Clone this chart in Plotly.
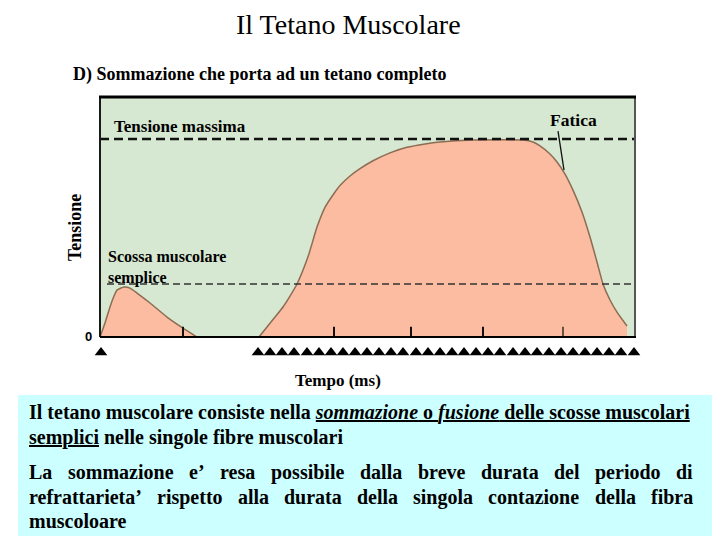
import plotly.graph_objects as go

# ---------------- data ----------------
# time in ms (arbitrary scale), tension in % of maximal tension
twitch_t = [0, 2.5, 5, 7, 8.5, 12, 15, 18.5, 25, 33.5, 41.5, 48.5]
twitch_T = [0, 7.1, 15.2, 20.7, 23.7, 25.3, 24.7, 22.2, 17.2, 10.1, 4.5, 0]

tet_t = [79.5, 83.5, 87.5, 91.5, 95, 98.5, 104, 108.5, 112.5, 117, 120, 125, 130,
         136.5, 145, 153.5, 162.5, 170, 186.5, 211.5, 216.5, 220, 225, 228.5,
         232.5, 236.5, 241, 245, 248.5, 251.5, 255, 258.5, 263.5]
tet_T = [0, 5.1, 10.1, 15.2, 20.7, 26.8, 40.5, 55.5, 65.5, 72.5, 76.5, 81.3, 85.0,
         89.0, 93.0, 95.8, 97.5, 98.5, 99.5, 99.5, 98.5, 96.5, 92.4, 88.4,
         82.3, 74.2, 63.1, 50.5, 37.9, 26.8, 18.7, 12.6, 5.6]

stim_single = [0.5]
stim_train = [79, 85, 91, 97, 103.5, 109.5, 115.5, 121.5, 127.5, 133.5, 139.5, 145.5,
              151.5, 158, 164, 170, 176, 182, 188, 194, 200, 206.5, 212.5, 218.5,
              224.5, 230.5, 236.5, 242.5, 248.5, 254.5, 260.5, 267]

tick_marks = [41.5, 117, 155.5, 191.5]
tick_mark_last = [231.5]

T_max = 100
T_twitch = 26.8
fatigue_line_t = [229, 232]
fatigue_line_T = [104, 84.3]

X_RANGE = [0, 267.5]
Y_TOP = 121.2
Y_BOTTOM = -12.6          # room below the baseline for the stimulus markers
Y_RANGE = [Y_BOTTOM, Y_TOP]
STIM_Y = -7.8

W, H = 720, 540
PL, PR, PT, PB = 100, 635, 97, 337  # frame of the graph in pixels
PB_AX = 362                          # bottom of the axis domain (incl. stimulus row)


def px(x):
    return x / W


def py(y):
    return (H - y) / H


GREEN = "#d6e7d2"
SALMON = "#fbbca1"
OUTLINE = "#8c6c52"
SERIF = "Liberation Serif, Times New Roman, serif"

fig = go.Figure()

for tt, TT in [(twitch_t, twitch_T), (tet_t, tet_T)]:
    fig.add_trace(go.Scatter(x=tt, y=TT, mode="lines", fill="tozeroy",
                             fillcolor=SALMON,
                             line=dict(color=OUTLINE, width=1.5, shape="spline", smoothing=0.5),
                             hoverinfo="skip", showlegend=False))

# dashed reference lines
fig.add_trace(go.Scatter(x=X_RANGE, y=[T_max, T_max], mode="lines",
                         line=dict(color="#111", width=2.5, dash="9px,5px"),
                         hoverinfo="skip", showlegend=False))
fig.add_trace(go.Scatter(x=[3.5, X_RANGE[1]], y=[T_twitch, T_twitch], mode="lines",
                         line=dict(color="#333", width=1.5, dash="7px,4px"),
                         hoverinfo="skip", showlegend=False))


def seg(vals, h):
    xs, ys = [], []
    for v in vals:
        xs += [v, v, None]
        ys += [0, h, None]
    return xs, ys


xs, ys = seg(tick_marks, 5.2)
fig.add_trace(go.Scatter(x=xs, y=ys, mode="lines", line=dict(color="#111", width=2),
                         hoverinfo="skip", showlegend=False))
xs, ys = seg(tick_mark_last, 5.2)
fig.add_trace(go.Scatter(x=xs, y=ys, mode="lines", line=dict(color="#6b5240", width=2),
                         hoverinfo="skip", showlegend=False))

# fatigue pointer
fig.add_trace(go.Scatter(x=fatigue_line_t, y=fatigue_line_T, mode="lines",
                         line=dict(color="#111", width=1.3),
                         hoverinfo="skip", showlegend=False, cliponaxis=False))

# stimuli
stim = stim_single + stim_train
fig.add_trace(go.Scatter(x=stim, y=[STIM_Y] * len(stim), mode="markers",
                         marker=dict(symbol="triangle-up", size=11, color="black"),
                         cliponaxis=False, hoverinfo="skip", showlegend=False))

fig.update_layout(
    width=W, height=H, autosize=False,
    margin=dict(l=0, r=0, t=0, b=0),
    paper_bgcolor="white", plot_bgcolor="rgba(0,0,0,0)",
    xaxis=dict(domain=[px(PL), px(PR)], range=X_RANGE, showgrid=False, zeroline=False,
               showticklabels=False, ticks="", showline=False, fixedrange=True),
    yaxis=dict(domain=[py(PB_AX), py(PT)], range=Y_RANGE, showgrid=False, zeroline=False,
               showticklabels=False, ticks="", showline=False, fixedrange=True),
)

shapes = []
# green graph background
shapes.append(dict(type="rect", xref="paper", yref="paper", x0=px(PL), x1=px(PR),
                   y0=py(PB), y1=py(PT), fillcolor=GREEN, line=dict(width=0),
                   layer="below"))
# frame
shapes.append(dict(type="line", xref="paper", yref="paper", x0=px(PL), x1=px(PL),
                   y0=py(PT), y1=py(PB), line=dict(color="#1a1a1a", width=2)))
shapes.append(dict(type="line", xref="paper", yref="paper", x0=px(PR), x1=px(PR),
                   y0=py(PT), y1=py(PB), line=dict(color="#555", width=2)))
shapes.append(dict(type="line", xref="paper", yref="paper", x0=px(PL - 1), x1=px(PR + 1),
                   y0=py(PT), y1=py(PT), line=dict(color="#000", width=3)))
shapes.append(dict(type="line", xref="paper", yref="paper", x0=px(PL), x1=px(PR + 1),
                   y0=py(PB), y1=py(PB), line=dict(color="#000", width=2)))
# text box
shapes.append(dict(type="rect", xref="paper", yref="paper", x0=px(18), x1=px(712),
                   y0=py(536), y1=py(395), fillcolor="#ccffff", line=dict(width=0),
                   layer="below"))
fig.update_layout(shapes=shapes)

ann = []


def text(x, y, s, size, bold=False, family=SERIF, xanchor="left", angle=0):
    if bold:
        s = "<b>" + s + "</b>"
    ann.append(dict(x=px(x), y=py(y), xref="paper", yref="paper", text=s,
                    showarrow=False, xanchor=xanchor, yanchor="middle", align="left",
                    font=dict(family=family, size=size, color="black"),
                    textangle=angle, borderpad=0))


text(348, 25, "Il Tetano Muscolare", 28, xanchor="center")
text(72, 75, "D) Sommazione che porta ad un tetano completo", 18, bold=True)
text(113, 127, "Tensione massima", 17, bold=True)
text(549, 120, "Fatica", 17.5, bold=True)
text(107, 267, "Scossa muscolare<br>semplice", 16, bold=True)
text(75, 228, "Tensione", 18, bold=True, xanchor="center", angle=-90)
text(88, 336, "0", 13, bold=True, family="Liberation Sans, Arial, sans-serif", xanchor="center")
text(338, 381, "Tempo (ms)", 17, bold=True, xanchor="center")

# paragraph 1
text(28, 412, "Il tetano muscolare consiste nella <u><i>sommazione</i> o <i>fusione</i> "
     "delle scosse muscolari</u>", 20, bold=True)
text(28, 437, "<u>semplici</u> nelle singole fibre muscolari", 20, bold=True)

# paragraph 2 (justified): Times Bold advance widths (1/1000 em)
TB = {"a": 500, "b": 556, "c": 444, "d": 556, "e": 444, "f": 333, "g": 500, "i": 278,
      "l": 278, "m": 833, "n": 556, "o": 500, "p": 556, "r": 444, "s": 389, "t": 333,
      "u": 556, "v": 500, "z": 444, "L": 667, "\u2019": 333}
FS = 20
LEFT, RIGHT = 28, 692


def justified(words, y):
    widths = [sum(TB.get(c, 500) for c in w) * FS / 1000 for w in words]
    gap = (RIGHT - LEFT - sum(widths)) / (len(words) - 1)
    x = LEFT
    for w, wd in zip(words, widths):
        text(x, y, w, FS, bold=True)
        x += wd + gap


justified("La sommazione e\u2019 resa possibile dalla breve durata del periodo di".split(), 472)
justified("refrattarieta\u2019 rispetto alla durata della singola contazione della fibra".split(), 497)
text(28, 521, "muscoloare", FS, bold=True)

fig.update_layout(annotations=ann)
fig.write_html("out.html", config={"displayModeBar": False, "staticPlot": True},
               post_script="document.body.style.margin='0px';document.body.style.overflow='hidden';")
